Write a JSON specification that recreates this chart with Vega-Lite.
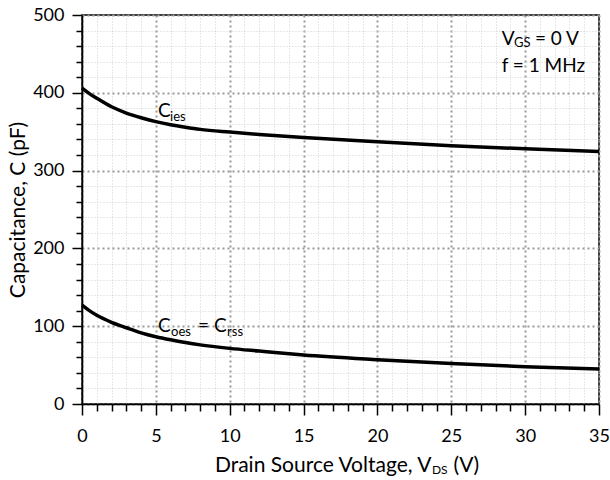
{
  "$schema": "https://vega.github.io/schema/vega-lite/v6.json",
  "width": 517,
  "height": 389,
  "autosize": {"type": "none"},
  "padding": {"left": 82, "top": 15, "right": 11, "bottom": 76},
  "background": "white",
  "config": {
    "view": {"stroke": "black", "strokeWidth": 1.5},
    "font": "Lato",
    "axis": {
      "labelFont": "Lato", "labelFontSize": 18, "labelColor": "black",
      "titleFont": "Lato", "titleFontSize": 21, "titleFontWeight": "normal", "titleColor": "black",
      "domainColor": "black", "domainWidth": 1.5, "tickColor": "black", "tickWidth": 1.5,
      "labelOverlap": false, "labelFlush": false
    }
  },
  "datasets": {
    "curves": [
      {"series": "Cies", "V": 0, "C": 406}, {"series": "Cies", "V": 0.5, "C": 399}, {"series": "Cies", "V": 1, "C": 393},
      {"series": "Cies", "V": 2, "C": 382}, {"series": "Cies", "V": 3, "C": 374}, {"series": "Cies", "V": 4, "C": 368},
      {"series": "Cies", "V": 5, "C": 363}, {"series": "Cies", "V": 6, "C": 359}, {"series": "Cies", "V": 7, "C": 355.8},
      {"series": "Cies", "V": 8, "C": 353}, {"series": "Cies", "V": 10, "C": 349.5}, {"series": "Cies", "V": 12, "C": 346.5},
      {"series": "Cies", "V": 15, "C": 342.5}, {"series": "Cies", "V": 20, "C": 337}, {"series": "Cies", "V": 25, "C": 332},
      {"series": "Cies", "V": 30, "C": 328}, {"series": "Cies", "V": 35, "C": 324.5},
      {"series": "Coes", "V": 0, "C": 127}, {"series": "Coes", "V": 0.5, "C": 120}, {"series": "Coes", "V": 1, "C": 114},
      {"series": "Coes", "V": 2, "C": 105}, {"series": "Coes", "V": 3, "C": 98}, {"series": "Coes", "V": 4, "C": 91.5},
      {"series": "Coes", "V": 5, "C": 86.5}, {"series": "Coes", "V": 6, "C": 82.5}, {"series": "Coes", "V": 7, "C": 79},
      {"series": "Coes", "V": 8, "C": 76}, {"series": "Coes", "V": 10, "C": 71.5}, {"series": "Coes", "V": 12, "C": 68},
      {"series": "Coes", "V": 15, "C": 63}, {"series": "Coes", "V": 20, "C": 57}, {"series": "Coes", "V": 25, "C": 52},
      {"series": "Coes", "V": 30, "C": 48}, {"series": "Coes", "V": 35, "C": 45}
    ],
    "mainText": [
      {"V": 5.15, "C": 369, "t": "C"},
      {"V": 5.15, "C": 92.5, "t": "C"},
      {"V": 7.85, "C": 92.5, "t": "="},
      {"V": 8.94, "C": 92.5, "t": "C"},
      {"V": 28.41, "C": 461, "t": "V"},
      {"V": 30.66, "C": 461, "t": "= 0 V"},
      {"V": 28.41, "C": 427, "t": "f = 1 MHz"}
    ],
    "subText": [
      {"V": 5.96, "C": 364, "t": "ies"},
      {"V": 6.03, "C": 87.4, "t": "oes"},
      {"V": 9.82, "C": 87.4, "t": "rss"},
      {"V": 29.25, "C": 459.5, "t": "GS"}
    ],
    "titleText": [
      {"V": 9.0, "C": -87.4, "t": "Drain Source Voltage, V"},
      {"V": 25.15, "C": -87.4, "t": "(V)"}
    ],
    "titleSub": [
      {"V": 23.69, "C": -90, "t": "DS"}
    ]
  },
  "layer": [
    {
      "data": {"name": "curves"},
      "mark": {"type": "line", "color": "black", "strokeWidth": 3.5, "interpolate": "monotone"},
      "encoding": {
        "x": {
          "field": "V", "type": "quantitative",
          "scale": {"domain": [0, 35], "nice": false},
          "axis": {
            "values": [0,1,2,3,4,5,6,7,8,9,10,11,12,13,14,15,16,17,18,19,20,21,22,23,24,25,26,27,28,29,30,31,32,33,34,35],
            "tickCount": 100,
            "format": "d",
            "labelExpr": "datum.value % 5 === 0 ? datum.label : ''",
            "title": null,
            "tickSize": {"condition": {"test": "datum.value % 5 === 0", "value": 11}, "value": 7},
            "labelPadding": 12,
            "grid": true,
            "gridColor": {"condition": {"test": "datum.value % 5 === 0", "value": "#999999"}, "value": "#d0d0d0"},
            "gridWidth": {"condition": {"test": "datum.value % 5 === 0", "value": 2}, "value": 1},
            "gridDash": {"condition": {"test": "datum.value % 5 === 0", "value": [2, 3]}, "value": [1, 2]}
          }
        },
        "y": {
          "field": "C", "type": "quantitative",
          "scale": {"domain": [0, 500], "nice": false},
          "axis": {
            "values": [0,20,40,60,80,100,120,140,160,180,200,220,240,260,280,300,320,340,360,380,400,420,440,460,480,500],
            "tickCount": 100,
            "format": "d",
            "labelExpr": "datum.value % 100 === 0 ? datum.label : ''",
            "title": "Capacitance, C (pF)",
            "titleX": -64, "titleY": 194.5, "titleAngle": -90, "titleAlign": "center", "titleBaseline": "middle",
            "tickSize": {"condition": {"test": "datum.value % 100 === 0", "value": 10}, "value": 6},
            "labelPadding": 8,
            "grid": true,
            "gridColor": {"condition": {"test": "datum.value % 100 === 0", "value": "#999999"}, "value": "#d0d0d0"},
            "gridWidth": {"condition": {"test": "datum.value % 100 === 0", "value": 2}, "value": 1},
            "gridDash": {"condition": {"test": "datum.value % 100 === 0", "value": [2, 3]}, "value": [1, 2]}
          }
        },
        "detail": {"field": "series"}
      }
    },
    {
      "data": {"name": "mainText"},
      "mark": {"type": "text", "align": "left", "baseline": "alphabetic", "fontSize": 19, "font": "Lato", "color": "black"},
      "encoding": {
        "x": {"field": "V", "type": "quantitative"},
        "y": {"field": "C", "type": "quantitative"},
        "text": {"field": "t"}
      }
    },
    {
      "data": {"name": "subText"},
      "mark": {"type": "text", "align": "left", "baseline": "alphabetic", "fontSize": 13, "font": "Lato", "color": "black"},
      "encoding": {
        "x": {"field": "V", "type": "quantitative"},
        "y": {"field": "C", "type": "quantitative"},
        "text": {"field": "t"}
      }
    },
    {
      "data": {"name": "titleText"},
      "mark": {"type": "text", "align": "left", "baseline": "alphabetic", "fontSize": 21, "font": "Lato", "color": "black"},
      "encoding": {
        "x": {"field": "V", "type": "quantitative"},
        "y": {"field": "C", "type": "quantitative"},
        "text": {"field": "t"}
      }
    },
    {
      "data": {"name": "titleSub"},
      "mark": {"type": "text", "align": "left", "baseline": "alphabetic", "fontSize": 12, "font": "Lato", "color": "black"},
      "encoding": {
        "x": {"field": "V", "type": "quantitative"},
        "y": {"field": "C", "type": "quantitative"},
        "text": {"field": "t"}
      }
    }
  ]
}
